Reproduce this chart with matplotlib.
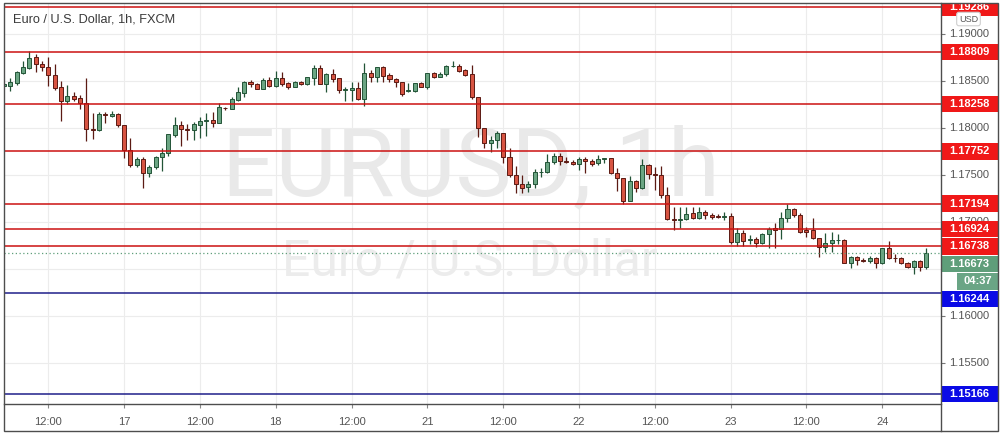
import matplotlib
matplotlib.use("Agg")
import matplotlib.pyplot as plt
from matplotlib.patches import Rectangle
from matplotlib.lines import Line2D
import numpy as np

# ---------------- data ----------------
opens = [1.18451, 1.18444, 1.18483, 1.18590, 1.18643, 1.18753, 1.18682, 1.18654, 1.18561, 1.18434,
         1.18292, 1.18338, 1.18316, 1.18263, 1.17990, 1.17979, 1.18150, 1.18132, 1.18146, 1.18029,
         1.17763, 1.17610, 1.17670, 1.17525, 1.17582, 1.17688, 1.17731, 1.17929, 1.18029, 1.17990,
         1.17976, 1.18036, 1.18075, 1.18086, 1.18057, 1.18217, 1.18206, 1.18299, 1.18377, 1.18487,
         1.18469, 1.18419, 1.18508, 1.18451, 1.18529, 1.18480, 1.18441, 1.18487, 1.18469, 1.18536,
         1.18636, 1.18473, 1.18572, 1.18529, 1.18402, 1.18405, 1.18430, 1.18306, 1.18583, 1.18547,
         1.18646, 1.18561, 1.18519, 1.18487, 1.18391, 1.18398, 1.18476, 1.18441, 1.18583, 1.18547,
         1.18572, 1.18661, 1.18661, 1.18618, 1.18575, 1.18327, 1.17997, 1.17837, 1.17869, 1.17944,
         1.17688, 1.17496, 1.17400, 1.17368, 1.17400, 1.17528, 1.17528, 1.17635, 1.17702, 1.17649,
         1.17638, 1.17613, 1.17670, 1.17649, 1.17624, 1.17667, 1.17677, 1.17518, 1.17464, 1.17226,
         1.17436, 1.17365, 1.17603, 1.17510, 1.17496, 1.17283, 1.17028, 1.17017, 1.17028, 1.17092,
         1.17042, 1.17109, 1.17073, 1.17059, 1.17055, 1.17059, 1.16789, 1.16878, 1.16803, 1.16814,
         1.16771, 1.16867, 1.16931, 1.16924, 1.17038, 1.17134, 1.17073, 1.16917, 1.16917, 1.16825,
         1.16736, 1.16771, 1.16803, 1.16807, 1.16566, 1.16622, 1.16594, 1.16583, 1.16619, 1.16559,
         1.16718, 1.16619, 1.16615, 1.16566, 1.16516, 1.16583, 1.16516]
highs = [1.18476, 1.18529, 1.18607, 1.18710, 1.18817, 1.18789, 1.18710, 1.18760, 1.18682, 1.18497,
         1.18458, 1.18387, 1.18355, 1.18536, 1.18157, 1.18174, 1.18174, 1.18181, 1.18157, 1.18032,
         1.17894, 1.17695, 1.17688, 1.17606, 1.17702, 1.17784, 1.17937, 1.18114, 1.18075, 1.18043,
         1.18068, 1.18114, 1.18164, 1.18174, 1.18270, 1.18228, 1.18334, 1.18441, 1.18497, 1.18512,
         1.18476, 1.18529, 1.18547, 1.18611, 1.18600, 1.18494, 1.18505, 1.18505, 1.18547, 1.18675,
         1.18675, 1.18590, 1.18629, 1.18533, 1.18441, 1.18494, 1.18494, 1.18696, 1.18618, 1.18654,
         1.18664, 1.18583, 1.18536, 1.18490, 1.18476, 1.18483, 1.18487, 1.18590, 1.18600, 1.18600,
         1.18671, 1.18710, 1.18678, 1.18632, 1.18671, 1.18334, 1.18004, 1.17915, 1.17968, 1.17951,
         1.17791, 1.17596, 1.17500, 1.17436, 1.17564, 1.17571, 1.17723, 1.17731, 1.17731, 1.17695,
         1.17660, 1.17695, 1.17695, 1.17667, 1.17713, 1.17684, 1.17684, 1.17571, 1.17471, 1.17489,
         1.17447, 1.17674, 1.17613, 1.17589, 1.17596, 1.17376, 1.17163, 1.17163, 1.17163, 1.17163,
         1.17163, 1.17126, 1.17091, 1.17080, 1.17102, 1.17091, 1.16931, 1.16913, 1.16860, 1.16842,
         1.16885, 1.16949, 1.16984, 1.17109, 1.17187, 1.17151, 1.17091, 1.16949, 1.17038, 1.16832,
         1.16878, 1.16889, 1.16867, 1.16814, 1.16637, 1.16637, 1.16612, 1.16640, 1.16630, 1.16725,
         1.16796, 1.16658, 1.16622, 1.16576, 1.16594, 1.16594, 1.16725]
lows = [1.18444, 1.18398, 1.18455, 1.18579, 1.18632, 1.18600, 1.18611, 1.18451, 1.18405, 1.18075,
        1.18260, 1.18292, 1.18199, 1.17866, 1.17883, 1.17972, 1.18050, 1.18114, 1.18015, 1.17677,
        1.17589, 1.17589, 1.17365, 1.17482, 1.17567, 1.17546, 1.17702, 1.17908, 1.17809, 1.17873,
        1.17873, 1.17897, 1.17915, 1.18008, 1.18050, 1.18192, 1.18199, 1.18292, 1.18334, 1.18441,
        1.18412, 1.18412, 1.18434, 1.18441, 1.18448, 1.18419, 1.18434, 1.18462, 1.18458, 1.18458,
        1.18465, 1.18387, 1.18494, 1.18370, 1.18292, 1.18288, 1.18299, 1.18238, 1.18494, 1.18494,
        1.18494, 1.18487, 1.18441, 1.18345, 1.18384, 1.18380, 1.18434, 1.18412, 1.18529, 1.18540,
        1.18554, 1.18646, 1.18600, 1.18554, 1.18306, 1.17901, 1.17791, 1.17748, 1.17791, 1.17624,
        1.17482, 1.17312, 1.17305, 1.17322, 1.17358, 1.17475, 1.17518, 1.17617, 1.17606, 1.17624,
        1.17606, 1.17553, 1.17518, 1.17596, 1.17606, 1.17624, 1.17510, 1.17333, 1.17191, 1.17219,
        1.17322, 1.17347, 1.17454, 1.17340, 1.17255, 1.17020, 1.16914, 1.16932, 1.17020, 1.17035,
        1.17028, 1.17031, 1.17031, 1.17038, 1.17020, 1.16761, 1.16747, 1.16747, 1.16761, 1.16729,
        1.16764, 1.16718, 1.16725, 1.16814, 1.17002, 1.17055, 1.16882, 1.16842, 1.16818, 1.16630,
        1.16676, 1.16683, 1.16761, 1.16559, 1.16505, 1.16541, 1.16569, 1.16559, 1.16512, 1.16551,
        1.16605, 1.16576, 1.16548, 1.16512, 1.16441, 1.16477, 1.16498]
closes = [1.18469, 1.18487, 1.18593, 1.18647, 1.18749, 1.18678, 1.18654, 1.18561, 1.18430, 1.18292,
          1.18338, 1.18313, 1.18263, 1.17986, 1.17983, 1.18150, 1.18135, 1.18150, 1.18029, 1.17763,
          1.17610, 1.17670, 1.17525, 1.17585, 1.17692, 1.17734, 1.17933, 1.18029, 1.17986, 1.17976,
          1.18039, 1.18075, 1.18082, 1.18057, 1.18221, 1.18210, 1.18306, 1.18380, 1.18487, 1.18465,
          1.18419, 1.18508, 1.18451, 1.18529, 1.18473, 1.18441, 1.18490, 1.18473, 1.18540, 1.18636,
          1.18473, 1.18572, 1.18526, 1.18402, 1.18412, 1.18430, 1.18306, 1.18583, 1.18547, 1.18646,
          1.18558, 1.18519, 1.18487, 1.18359, 1.18402, 1.18476, 1.18441, 1.18583, 1.18547, 1.18576,
          1.18661, 1.18664, 1.18611, 1.18565, 1.18327, 1.17997, 1.17837, 1.17873, 1.17944, 1.17688,
          1.17496, 1.17404, 1.17365, 1.17404, 1.17528, 1.17535, 1.17635, 1.17702, 1.17645, 1.17635,
          1.17613, 1.17667, 1.17649, 1.17617, 1.17667, 1.17677, 1.17518, 1.17464, 1.17226, 1.17436,
          1.17365, 1.17603, 1.17507, 1.17496, 1.17283, 1.17028, 1.17017, 1.17028, 1.17088, 1.17042,
          1.17106, 1.17073, 1.17048, 1.17055, 1.17059, 1.16789, 1.16878, 1.16800, 1.16818, 1.16771,
          1.16867, 1.16921, 1.16917, 1.17038, 1.17134, 1.17073, 1.16889, 1.16889, 1.16825, 1.16736,
          1.16771, 1.16807, 1.16810, 1.16566, 1.16622, 1.16590, 1.16580, 1.16619, 1.16559, 1.16718,
          1.16619, 1.16615, 1.16559, 1.16516, 1.16583, 1.16516, 1.16673]

time_tick_idx = [7, 19, 31, 43, 55, 67, 79, 91, 103, 115, 127, 139]
time_tick_labels = ["12:00", "17", "12:00", "18", "12:00", "21", "12:00", "22", "12:00", "23", "12:00", "24"]

price_ticks = [1.155, 1.160, 1.165, 1.170, 1.175, 1.180, 1.185, 1.190]
red_levels = [1.19286, 1.18809, 1.18258, 1.17752, 1.17194, 1.16924, 1.16738]
blue_levels = [1.16244, 1.15166]
last_price = 1.16673
countdown = "04:37"

title = "Euro / U.S. Dollar, 1h, FXCM"
wm_big = "EURUSD, 1h"
wm_small = "Euro / U.S. Dollar"
currency = "USD"

# ---------------- layout ----------------
W, H = 1004, 436
fig = plt.figure(figsize=(W / 100, H / 100), dpi=100)
fig.patch.set_facecolor("white")


def fx(px):
    return px / W


def fy(py):
    return 1 - py / H


PL, PR, PT, PB = 4, 941, 3.5, 403.5
AR, AB = 998, 431
ymin, ymax = 1.150648, 1.193265
px_per_unit = (PB - PT) / (ymax - ymin)

ax = fig.add_axes([fx(PL), fy(PB), fx(PR - PL), (PB - PT) / H])
axp = fig.add_axes([fx(PR), fy(PB), fx(AR - PR), (PB - PT) / H])

GREEN, GREEN_E = "#6ba583", "#225437"
RED, RED_E = "#d75442", "#5b1a13"

# ---------------- candles ----------------
o = np.array(opens); h = np.array(highs); l = np.array(lows); c = np.array(closes)
x = np.arange(len(o))
up = c >= o
fill = np.where(up, GREEN, RED)
edge = np.where(up, GREEN_E, RED_E)
ax.vlines(x, l, h, colors=edge, lw=0.9, zorder=3)
ax.bar(x, np.maximum(np.abs(c - o), 0.00002), bottom=np.minimum(o, c), width=0.64,
       color=fill, edgecolor=edge, linewidth=0.7, zorder=4)

ax.set_xlim(-0.02, 148.3)
ax.set_ylim(ymin, ymax)

# levels
for lv in red_levels:
    ax.axhline(lv, color="#cc1111", lw=1.1, zorder=5)
for lv in blue_levels:
    ax.axhline(lv, color="#1f1f8a", lw=1.1, zorder=5)
ax.axhline(last_price, color="#5f9e7a", lw=0.9, ls=(0, (1, 2)), zorder=5)

# grid & ticks
ax.set_yticks(price_ticks)
ax.set_xticks(time_tick_idx)
ax.set_xticklabels(time_tick_labels)
ax.grid(True, color="#ececec", lw=0.8, zorder=0)
ax.set_axisbelow(True)
ax.tick_params(axis="y", length=0, labelleft=False)
ax.tick_params(axis="x", direction="out", length=3, color="#888888", labelsize=8,
               labelcolor="#555555", pad=7)
for lab in ax.get_xticklabels():
    lab.set_family("Liberation Sans")
for sp in ax.spines.values():
    sp.set_visible(False)

# watermarks
t1 = ax.text(fx(471), fy(195), wm_big, transform=fig.transFigure, ha="center", va="baseline",
             fontsize=70, color="#e9e9e9", family="Roboto", zorder=1)
t2 = ax.text(fx(470), fy(276), wm_small, transform=fig.transFigure, ha="center", va="baseline",
             fontsize=30, color="#ececec", family="Roboto", zorder=1)
fig.canvas.draw()
rend = fig.canvas.get_renderer()
for t, target in ((t1, 498), (t2, 375)):
    bb = t.get_window_extent(renderer=rend)
    t.set_fontsize(t.get_fontsize() * target / bb.width)

# title
fig.text(fx(13), fy(20), title, ha="left", va="center", fontsize=9.2, color="#3a3a3a",
         family="Liberation Sans")

# ---------------- price scale ----------------
axp.set_xlim(0, 1)
axp.set_ylim(ymin, ymax)
axp.set_xticks([])
axp.set_yticks(price_ticks)
axp.tick_params(axis="y", direction="in", length=3, color="#777777", labelleft=False)
for sp in axp.spines.values():
    sp.set_visible(False)

box_h = 16.5 / px_per_unit
step = 17.5 / px_per_unit
labels = [(lv, f"{lv:.5f}", "#f01818", 0.0) for lv in red_levels]
labels.append((last_price, f"{last_price:.5f}", "#5f9e7a", 0.0))
labels.append((last_price - 1e-7, countdown, "#6aa585", 0.28))
labels += [(lv, f"{lv:.5f}", "#0a0ae6", 0.0) for lv in blue_levels]
labels.sort(key=lambda t: -t[0])
placed = []
prev = None
for price, txt, col, x0 in labels:
    pos = price
    if prev is not None and prev - pos < step:
        pos = prev - step
    prev = pos
    placed.append(pos)
    axp.add_patch(Rectangle((x0, pos - box_h / 2), 1 - x0, box_h, facecolor=col,
                            edgecolor="none", zorder=3, clip_on=True))
    axp.text((x0 + 1) / 2 if x0 > 0 else 0.5, pos, txt, ha="center", va="center",
             fontsize=8, color="white", weight="bold", family="Liberation Sans",
             zorder=4, clip_on=True)

# plain scale labels (those fully hidden behind a label box are not drawn)
hide_dist = (box_h / 2) - 3 / px_per_unit
for p in price_ticks:
    if any(abs(p - q) < hide_dist for q in placed):
        continue
    axp.text(0.5, p, f"{p:.5f}", ha="center", va="center", fontsize=8, color="#555555",
             family="Liberation Sans", zorder=2, clip_on=True)

fig.text(fx(968.5), fy(19), currency, ha="center", va="center", fontsize=6.5, color="#555555",
         family="Liberation Sans", zorder=10,
         bbox=dict(boxstyle="round,pad=0.25", fc="white", ec="#cfcfcf", lw=0.8))

# ---------------- frame ----------------
fc = "#4d4d4d"
fig.add_artist(Rectangle((fx(PL), fy(AB)), fx(AR - PL), (AB - PT) / H, transform=fig.transFigure,
                         fill=False, edgecolor=fc, lw=1.0, zorder=20))
fig.add_artist(Line2D([fx(PR), fx(PR)], [fy(PT), fy(AB)], transform=fig.transFigure,
                      color=fc, lw=1.0, zorder=20))
fig.add_artist(Line2D([fx(PL), fx(PR)], [fy(PB), fy(PB)], transform=fig.transFigure,
                      color=fc, lw=1.0, zorder=20))

fig.savefig("out.png", dpi=100, facecolor="white")
